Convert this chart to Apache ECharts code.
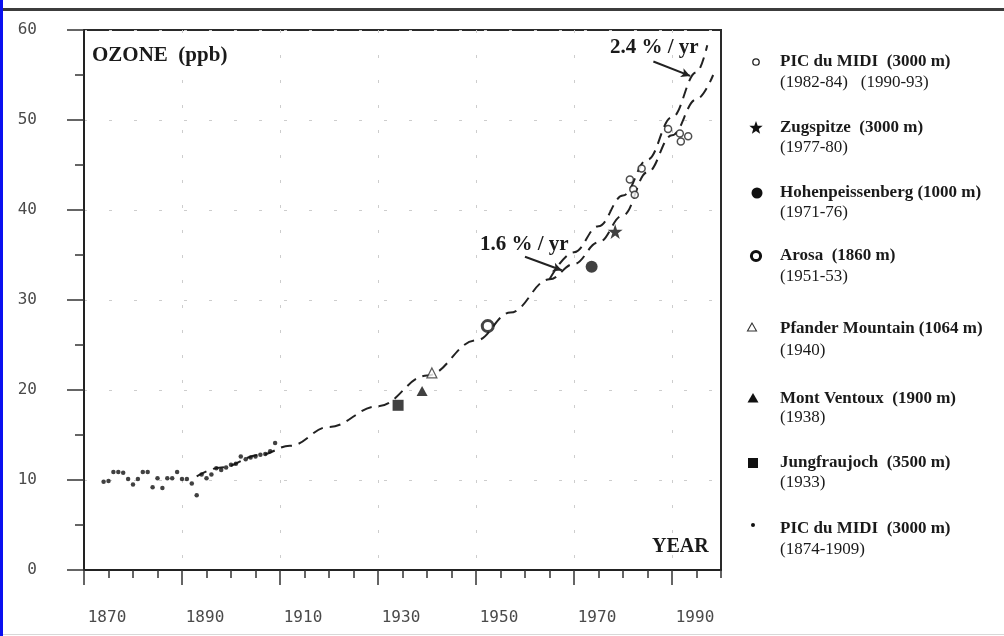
<!DOCTYPE html>
<html>
<head>
<meta charset="utf-8">
<script src="https://cdn.jsdelivr.net/npm/echarts@6/dist/echarts.min.js"></script>
<style>
  html, body { margin: 0; padding: 0; background: #ffffff; }
  #chart { width: 1004px; height: 636px; }
</style>
</head>
<body>
<div id="chart"></div>
<script>
// Surface ozone (ppb) at European mountain stations, 1874-1993

// PIC du MIDI (3000 m), 1874-1909, yearly means
const picHistYears = [1874,1875,1876,1877,1878,1879,1880,1881,1882,1883,1884,1885,1886,1887,1888,1889,1890,1891,
                      1892,1893,1894,1895,1896,1897,1898,1899,1900,1901,1902,1903,1904,1905,1906,1907,1908,1909];
const picHistValues = [9.8,9.9,10.9,10.9,10.8,10.1,9.5,10.1,10.9,10.9,9.2,10.2,9.1,10.2,10.2,10.9,10.1,10.1,
                       9.6,8.3,10.6,10.2,10.6,11.3,11.1,11.4,11.7,11.8,12.6,12.3,12.5,12.6,12.8,12.9,13.2,14.1];

// PIC du MIDI (3000 m), 1982-84 and 1990-93
const picModernYears = [1981.4,1982.1,1982.4,1983.8,1989.2,1991.6,1991.8,1993.3];
const picModernValues = [43.4,42.3,41.7,44.6,49.0,48.5,47.6,48.2];

// Single-station campaigns
const jungfraujoch = [[1934.1, 18.3]];
const montVentoux  = [[1939.0, 19.9]];
const pfander      = [[1941.0, 21.9]];
const arosa        = [[1952.4, 27.1]];
const hohenpeiss   = [[1973.6, 33.7]];
const zugspitze    = [[1978.4, 37.6]];

// Exponential trend curves (1.6 %/yr and 2.4 %/yr branches)
const trendYears  = [1893,1898,1906,1912,1920,1930,1940,1950,1957,1965,1970,1975,1980,1985,1990,1995,1998.4];
const trendValues = [10.4,11.4,12.8,13.8,15.9,18.2,21.6,25.5,28.6,32.3,34.0,36.4,39.4,44.2,48.3,52.3,55.0];
const steepYears  = [1965,1970,1975,1980,1985,1990,1995,1997.2];
const steepValues = [32.3,35.3,38.2,41.6,45.6,50.3,55.3,58.3];

// Axis ticks
const yearTicks = [1870,1890,1910,1930,1950,1970,1990];

// Legend text
const legendNames = ['PIC du MIDI  (3000 m)','Zugspitze  (3000 m)','Hohenpeissenberg (1000 m)','Arosa  (1860 m)',
                     'Pfander Mountain (1064 m)','Mont Ventoux  (1900 m)','Jungfraujoch  (3500 m)','PIC du MIDI  (3000 m)'];
const legendPeriods = ['(1982-84)   (1990-93)','(1977-80)','(1971-76)','(1951-53)','(1940)','(1938)','(1933)','(1874-1909)'];

const zip = (xs, ys) => xs.map((x, i) => [x, ys[i]]);

const INK = '#1a1a1a';
const SERIF = '"Liberation Serif", "Times New Roman", serif';
const MONO = '"DejaVu Sans Mono", "Liberation Mono", monospace';
const STAR = 'path://M50,0 L61.2,34.5 L97.6,34.5 L68.2,55.9 L79.4,90.5 L50,69.1 L20.6,90.5 L31.8,55.9 L2.4,34.5 L38.8,34.5 Z';
const FAINT = { color: '#cdcdcd', width: 1, type: [3, 22] };

function starPoints(cx, cy, R, r) {
  const pts = [];
  for (let i = 0; i < 10; i++) {
    const a = -Math.PI / 2 + i * Math.PI / 5;
    const rad = i % 2 ? r : R;
    pts.push([cx + rad * Math.cos(a), cy + rad * Math.sin(a)]);
  }
  return pts;
}

// legend block layout
const iconX = 756, textX = 780;
const rowY = [62, 128, 193, 256, 329, 399, 463, 529];
const subY = [83, 148, 213, 277, 351, 418, 483, 550];

const legendIcons = [
  { type: 'circle', shape: { cx: iconX, cy: rowY[0], r: 3.2 }, style: { fill: '#fff', stroke: '#222', lineWidth: 1.3 } },
  { type: 'polygon', shape: { points: starPoints(iconX, rowY[1], 7, 2.9) }, style: { fill: '#111' } },
  { type: 'circle', shape: { cx: iconX + 1, cy: rowY[2], r: 5.5 }, style: { fill: '#111' } },
  { type: 'circle', shape: { cx: iconX, cy: rowY[3], r: 4.6 }, style: { fill: '#fff', stroke: '#111', lineWidth: 3 } },
  { type: 'polygon', shape: { points: [[iconX - 4, rowY[4] - 6], [iconX - 8.5, rowY[4] + 2], [iconX + 0.5, rowY[4] + 2]] },
    style: { fill: '#fff', stroke: '#333', lineWidth: 1.1 } },
  { type: 'polygon', shape: { points: [[iconX - 3, rowY[5] - 6], [iconX - 8.5, rowY[5] + 3.5], [iconX + 2.5, rowY[5] + 3.5]] },
    style: { fill: '#111' } },
  { type: 'rect', shape: { x: iconX - 8, y: rowY[6] - 5, width: 10, height: 10 }, style: { fill: '#111' } },
  { type: 'circle', shape: { cx: iconX - 3, cy: rowY[7] - 4, r: 2 }, style: { fill: '#111' } }
];

const legendTexts = [];
legendNames.forEach((name, i) => {
  legendTexts.push({ type: 'text', x: textX, y: rowY[i],
    style: { text: name, font: 'bold 17px ' + SERIF, fill: INK, verticalAlign: 'middle' } });
  legendTexts.push({ type: 'text', x: textX, y: subY[i],
    style: { text: legendPeriods[i], font: '17px ' + SERIF, fill: INK, verticalAlign: 'middle' } });
});

const option = {
  animation: false,
  backgroundColor: '#ffffff',
  grid: { left: 84, right: 283, top: 30, bottom: 66, show: true, borderColor: '#2a2a2a', borderWidth: 2 },
  xAxis: [
    {
      type: 'value', min: 1870, max: 2000, interval: 20, position: 'bottom',
      axisLine: { show: true, lineStyle: { color: '#222', width: 2 } },
      axisTick: { show: true, length: 15, customValues: yearTicks, lineStyle: { color: '#333', width: 1.5 } },
      axisLabel: { customValues: yearTicks, margin: 40, padding: [0, 0, 0, 46],
                   formatter: v => String(v),
                   fontFamily: MONO, fontSize: 16, color: '#4a4a4a' },
      splitLine: { show: true, lineStyle: FAINT }
    },
    {
      type: 'value', min: 1870, max: 2000, interval: 5, position: 'bottom',
      axisLine: { show: false },
      axisTick: { show: true, length: 8, lineStyle: { color: '#333', width: 1.5 } },
      axisLabel: { show: false },
      splitLine: { show: false }
    }
  ],
  yAxis: {
    type: 'value', min: 0, max: 60, interval: 10,
    axisLine: { show: true, lineStyle: { color: '#222', width: 2 } },
    axisTick: { show: true, length: 17, lineStyle: { color: '#333', width: 1.5 } },
    minorTick: { show: true, splitNumber: 2, length: 9, lineStyle: { color: '#333', width: 1.5 } },
    axisLabel: { margin: 47, fontFamily: MONO, fontSize: 16, color: '#4a4a4a' },
    splitLine: { show: true, lineStyle: FAINT }
  },
  series: [
    {
      name: 'trend 1.6', type: 'line', data: zip(trendYears, trendValues),
      smooth: 0.4, smoothMonotone: 'x', showSymbol: false, z: 2,
      lineStyle: { color: '#222', width: 2, type: [11, 7] },
      markLine: {
        silent: true, symbol: ['none', 'arrow'], symbolSize: [7, 9],
        label: { show: false },
        lineStyle: { color: '#222', width: 2, type: 'solid' },
        data: [
          [{ coord: [1960.0, 34.8] }, { coord: [1967.5, 33.3] }],
          [{ coord: [1986.2, 56.5] }, { coord: [1993.7, 54.9] }]
        ]
      }
    },
    {
      name: 'trend 2.4', type: 'line', data: zip(steepYears, steepValues),
      smooth: 0.4, smoothMonotone: 'x', showSymbol: false, z: 2,
      lineStyle: { color: '#222', width: 2, type: [11, 7] }
    },
    {
      name: 'PIC du MIDI 1874-1909', type: 'scatter', data: zip(picHistYears, picHistValues),
      symbol: 'circle', symbolSize: 4.5, z: 4, itemStyle: { color: '#111' }
    },
    {
      name: 'PIC du MIDI 1982-93', type: 'scatter', data: zip(picModernYears, picModernValues),
      symbol: 'circle', symbolSize: 7, z: 4,
      itemStyle: { color: '#fff', borderColor: '#222', borderWidth: 1.5 }
    },
    { name: 'Jungfraujoch', type: 'scatter', data: jungfraujoch, symbol: 'rect', symbolSize: 11, z: 5,
      itemStyle: { color: '#111' } },
    { name: 'Mont Ventoux', type: 'scatter', data: montVentoux, symbol: 'triangle', symbolSize: [11, 10], z: 5,
      itemStyle: { color: '#111' } },
    { name: 'Pfander Mountain', type: 'scatter', data: pfander, symbol: 'triangle', symbolSize: [10, 10], z: 5,
      itemStyle: { color: '#fff', borderColor: '#333', borderWidth: 1.2 } },
    { name: 'Arosa', type: 'scatter', data: arosa, symbol: 'circle', symbolSize: 11, z: 5,
      itemStyle: { color: '#fff', borderColor: '#151515', borderWidth: 3 } },
    { name: 'Hohenpeissenberg', type: 'scatter', data: hohenpeiss, symbol: 'circle', symbolSize: 12, z: 5,
      itemStyle: { color: '#111' } },
    { name: 'Zugspitze', type: 'scatter', data: zugspitze, symbol: STAR, symbolSize: 15, z: 5,
      itemStyle: { color: '#111' } }
  ],
  graphic: [
    // page frame
    { type: 'rect', shape: { x: 0, y: 0, width: 3, height: 636 }, style: { fill: '#0a10f0' }, silent: true },
    { type: 'rect', shape: { x: 3, y: 8, width: 1001, height: 3 }, style: { fill: '#3c3c3c' }, silent: true },
    { type: 'rect', shape: { x: 3, y: 634, width: 1001, height: 1 }, style: { fill: '#d8d8d8' }, silent: true },
    // annotations
    { type: 'text', x: 92, y: 56, style: { text: 'OZONE  (ppb)', font: 'bold 21px ' + SERIF, fill: INK, verticalAlign: 'middle' } },
    { type: 'text', x: 652, y: 547, style: { text: 'YEAR', font: 'bold 20px ' + SERIF, fill: INK, verticalAlign: 'middle' } },
    { type: 'text', x: 480, y: 245, style: { text: '1.6 % / yr', font: 'bold 21px ' + SERIF, fill: INK, verticalAlign: 'middle' } },
    { type: 'text', x: 610, y: 48, style: { text: '2.4 % / yr', font: 'bold 21px ' + SERIF, fill: INK, verticalAlign: 'middle' } }
  ].concat(legendIcons, legendTexts)
};

const ozoneChart = echarts.init(document.getElementById('chart'));
ozoneChart.setOption(option);
</script>
</body>
</html>
